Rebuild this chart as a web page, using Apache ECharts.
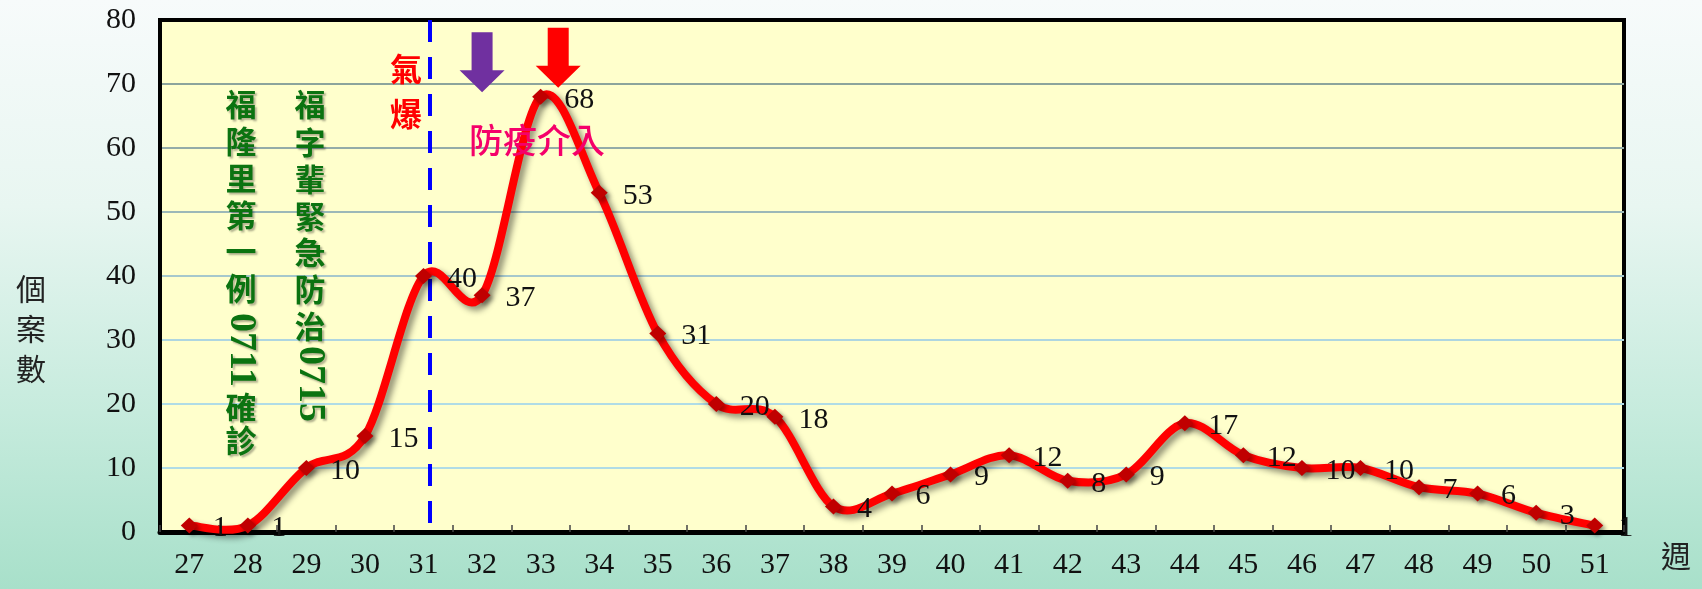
<!DOCTYPE html>
<html>
<head>
<meta charset="utf-8">
<script src="https://cdn.jsdelivr.net/npm/echarts@6/dist/echarts.min.js"></script>
<style>
  html, body { margin: 0; padding: 0; }
  #chart {
    width: 1702px;
    height: 589px;
    background: linear-gradient(to bottom, #f7fbfb 0%, #e8f6f1 35%, #c6ebdd 70%, #a8e0ca 100%);
  }
</style>
</head>
<body>
<div id="chart"></div>
<script>
// week numbers on the x axis
const weeks = ["27", "28", "29", "30", "31", "32", "33", "34", "35", "36", "37", "38", "39",
  "40", "41", "42", "43", "44", "45", "46", "47", "48", "49", "50", "51"];
// cases per week
const cases = [1, 1, 10, 15, 40, 37, 68, 53, 31, 20, 18, 4, 6, 9, 12, 8, 9, 17, 12, 10, 10, 7, 6, 3, 1];
// y axis range
const yMin = 0, yMax = 80, yStep = 10;
// events (in week units)
const blastWeek = 31.1;
const arrowWeeks = [32, 33.3];
const arrowLevels = [73.4, 74.1];
const arrowColors = ["#7030a0", "#ff0000"];

const serif = "'Liberation Serif', 'Times New Roman', serif";
const cjk = "'Noto Sans CJK TC', 'Noto Sans CJK SC', sans-serif";
const green = "#0b7310";

const arrowPath = "path://M12,0 L33,0 L33,38 L45,38 L22.5,60 L0,38 L12,38 Z";

function greenText(x, y, text, size, rotate) {
  return {
    type: "text",
    x: x,
    y: y,
    rotation: rotate || 0,
    style: {
      text: text,
      fill: green,
      font: "bold " + size + "px " + (rotate ? serif : cjk),
      align: "center",
      verticalAlign: "middle",
      textShadowColor: "rgba(0,0,0,0.3)",
      textShadowOffsetX: 2,
      textShadowOffsetY: 2,
      textShadowBlur: 2,
    },
    z: 50,
  };
}

const col1 = [["福", 104], ["隆", 141], ["里", 178], ["第", 215], ["一", 251], ["例", 288], ["確", 407], ["診", 440]];
const col2 = [["福", 104], ["字", 142], ["輩", 179], ["緊", 216], ["急", 252], ["防", 289], ["治", 326]];

const graphics = [];
col1.forEach(([c, y]) => graphics.push(greenText(241, y, c, 31)));
graphics.push(greenText(241, 350, "0711", 38, -Math.PI / 2));
col2.forEach(([c, y]) => graphics.push(greenText(310, y, c, 31)));
graphics.push(greenText(310, 384, "0715", 38, -Math.PI / 2));

graphics.push({
  type: "text", x: 406, y: 69, z: 50,
  style: { text: "氣", fill: "#ff0000", font: "bold 32px " + cjk, align: "center", verticalAlign: "middle" },
});
graphics.push({
  type: "text", x: 406, y: 114, z: 50,
  style: { text: "爆", fill: "#ff0000", font: "bold 32px " + cjk, align: "center", verticalAlign: "middle" },
});
graphics.push({
  type: "text", x: 537, y: 140, z: 50,
  style: { text: "防疫介入", fill: "#f5006a", font: "500 34px " + cjk, align: "center", verticalAlign: "middle" },
});
graphics.push({
  type: "text", x: 31, y: 329, z: 50,
  style: { text: "個\n案\n數", fill: "#222", font: "30px " + cjk, lineHeight: 40, align: "center", verticalAlign: "middle" },
});
graphics.push({
  type: "text", x: 1676, y: 556, z: 50,
  style: { text: "週", fill: "#222", font: "30px " + cjk, align: "center", verticalAlign: "middle" },
});

// smooth curve like the spreadsheet's (uniform Catmull-Rom through the points)
function renderCurve(params, api) {
  if (params.dataIndex !== 0) return { type: "group", children: [] };
  const pts = cases.map((v, i) => api.coord([i, v]));
  let d = "M" + pts[0][0] + " " + pts[0][1];
  for (let i = 0; i < pts.length - 1; i++) {
    const p0 = pts[i - 1] || pts[i];
    const p1 = pts[i];
    const p2 = pts[i + 1];
    const p3 = pts[i + 2] || pts[i + 1];
    const c1x = p1[0] + (p2[0] - p0[0]) / 6;
    const c1y = p1[1] + (p2[1] - p0[1]) / 6;
    const c2x = p2[0] - (p3[0] - p1[0]) / 6;
    const c2y = p2[1] - (p3[1] - p1[1]) / 6;
    d += " C" + c1x + " " + c1y + " " + c2x + " " + c2y + " " + p2[0] + " " + p2[1];
  }
  return {
    type: "path",
    shape: { pathData: d },
    style: {
      fill: "none",
      stroke: "#ff0000",
      lineWidth: 8,
      lineJoin: "round",
      shadowColor: "rgba(0,0,0,0.45)",
      shadowBlur: 6,
      shadowOffsetX: 4,
      shadowOffsetY: 4,
    },
  };
}

const chart = echarts.init(document.getElementById("chart"));

const option = {
  animation: false,
  backgroundColor: "transparent",
  grid: {
    left: 160,
    top: 20,
    right: 78,
    bottom: 57,
    show: true,
    backgroundColor: "#ffffcc",
    borderColor: "#000",
    borderWidth: 4,
  },
  xAxis: [
    {
      type: "category",
      data: weeks,
      boundaryGap: true,
      axisLine: { lineStyle: { color: "#000", width: 5 } },
      axisTick: { show: true, inside: true, length: 7, lineStyle: { color: "#444", width: 1.5 } },
      axisLabel: { color: "#111", fontFamily: serif, fontSize: 30, margin: 18 },
      splitLine: { show: false },
    },
    {
      type: "value",
      min: 26.5,
      max: 51.5,
      show: false,
    },
  ],
  yAxis: {
    type: "value",
    min: yMin,
    max: yMax,
    interval: yStep,
    axisLine: { show: true, lineStyle: { color: "#000", width: 4 } },
    axisTick: { show: false },
    axisLabel: { color: "#111", fontFamily: serif, fontSize: 30, margin: 24 },
    splitLine: {
      show: true,
      lineStyle: {
        width: 2,
        color: ["#b0dce6", "#b0dce6", "#b0dce6", "#aed6e0", "#a6c8cc", "#9cb8b8", "#94aca8", "#8ca49c", "#000"],
      },
    },
  },
  series: [
    {
      name: "curve",
      type: "custom",
      data: cases.map((v, i) => [i, v]),
      renderItem: renderCurve,
      silent: true,
      z: 5,
    },
    {
      name: "cases",
      type: "line",
      data: cases,
      symbol: "diamond",
      symbolSize: [17, 16],
      z: 10,
      lineStyle: { opacity: 0 },
      itemStyle: {
        color: "#c00000",
        shadowColor: "rgba(0,0,0,0.35)",
        shadowBlur: 4,
        shadowOffsetX: 3,
        shadowOffsetY: 3,
      },
      label: {
        show: true,
        position: "right",
        distance: 15,
        offset: [0, 3],
        color: "#111",
        fontFamily: serif,
        fontSize: 30,
      },
    },
    {
      name: "events",
      type: "line",
      xAxisIndex: 1,
      data: [],
      silent: true,
      markLine: {
        symbol: "none",
        silent: true,
        label: { show: false },
        lineStyle: { color: "#0000ff", width: 4, type: [22, 15] },
        data: [[{ coord: [blastWeek, 1.4] }, { coord: [blastWeek, yMax] }]],
      },
      markPoint: {
        symbol: arrowPath,
        symbolSize: [45, 60],
        symbolKeepAspect: false,
        label: { show: false },
        data: arrowWeeks.map((w, i) => ({
          coord: [w, arrowLevels[i]],
          itemStyle: { color: arrowColors[i] },
        })),
      },
    },
  ],
  graphic: graphics,
};

chart.setOption(option);
</script>
</body>
</html>
